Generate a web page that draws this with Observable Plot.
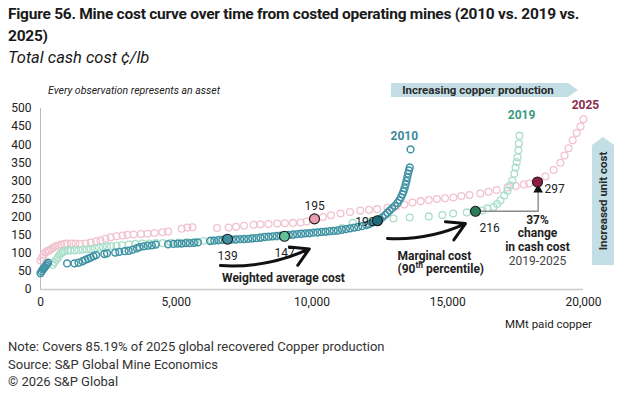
<!DOCTYPE html>
<html><head><meta charset="utf-8">
<script src="https://cdn.jsdelivr.net/npm/d3@7"></script>
<script src="https://cdn.jsdelivr.net/npm/@observablehq/plot@0.6"></script>
<style>
body{margin:0;background:#fff;width:639px;height:394px;overflow:hidden;position:relative;font-family:Roboto,"Noto Sans",sans-serif;color:#1a1a1a}
#t1{position:absolute;left:8px;top:3px;font-weight:700;font-size:15.5px;line-height:22px;white-space:nowrap;letter-spacing:-0.25px}
#sub{position:absolute;left:8px;top:48px;font-style:italic;font-size:16.5px;line-height:20px}
#chart{position:absolute;left:0;top:70px}
#foot{position:absolute;left:8px;top:338px;font-size:13px;line-height:17.5px;color:#333;white-space:nowrap}
</style></head><body>
<div id="t1">Figure 56. Mine cost curve over time from costed operating mines (2010 vs. 2019 vs.<br>2025)</div>
<div id="sub">Total cash cost ¢/lb</div>
<div id="chart"></div>
<div id="foot">Note: Covers 85.19% of 2025 global recovered Copper production<br>Source: S&amp;P Global Mine Economics<br>© 2026 S&amp;P Global</div>
<script>
// cumulative paid copper (x) and total cash cost (y), per asset
const mines2010 = [[0,45],[40,50],[80,55],[120,58],[160,62],[200,66],[240,70],[280,74],
[980,72],[1250,72],[1400,74],[1550,78],[1650,82],[1750,85],[1850,88],[1950,92],[2050,95],[2350,98],[2450,100],[2750,102],[2900,104],[3100,106],[3250,107],[3400,110],[3550,114],[3650,117],[3800,119],[3950,121],[4100,122],[4250,124],[4700,125],[4900,126],[5050,127],[5200,127],[5350,128],[5500,128],[5650,129],[5800,130],[6250,134],[6400,135],[6550,136],[6700,137],[7050,138],[7200,138],[7350,139],[7500,139],[7650,140],[7800,141],[7950,142],[8100,143],[8250,145],[8400,146],[8550,147],[8700,148],[8850,149],[9000,150],[9150,151],[9300,152],[9450,153],[9600,154],[9750,155],[9900,156],[10050,157],[10200,158],[10350,159],[10500,160],[10650,161],[10800,162],[10950,163],[11100,165],[11250,167],[11400,169],[11550,171],[11700,173],[11850,175],[12000,178],[12100,181],[12200,184],[12300,187],[12500,194],[12600,200],[12700,206],[12780,212],[12860,218],[12950,224],[13050,231],[13150,239],[13220,247],[13280,255],[13330,263],[13370,271],[13410,280],[13450,290],[13480,300],[13510,310],[13540,320],[13570,329],[13600,337],[13630,387]];
const mines2019 = [[450,68],[520,75],[580,82],[640,88],[700,95],[760,100],[820,104],[900,106],[1000,108],[1100,108],[1250,108],[1400,109],[1550,110],[1700,111],[1850,112],[2000,114],[2150,116],[2300,118],[2450,119],[2600,120],[2800,121],[3000,122],[3250,124],[3500,126],[3750,127],[4000,127],[4250,128],[4500,128],[4800,129],[5100,130],[5400,131],[5700,132],[6000,134],[6300,136],[6600,138],[6900,139],[7200,140],[7500,141],[7800,143],[8100,144],[8400,145],[8700,146],[9300,150],[9600,153],[9900,155],[10200,157],[10500,158],[10800,162],[11100,170],[11500,184],[12000,189],[12500,193],[13000,196],[13600,199],[14300,202],[14800,206],[15200,210],[15700,213],[16280,218],[16460,224],[16690,228],[16820,236],[16940,246],[17080,260],[17200,273],[17300,287],[17380,301],[17450,320],[17500,337],[17540,352],[17570,365],[17600,385],[17620,403],[17640,425]];
const mines2025 = [[0,80],[60,88],[120,96],[180,102],[250,106],[320,108],[400,112],[480,116],[560,120],[660,121],[760,124],[880,126],[980,127],[1150,127],[1290,127],[1450,126],[1660,127],[1850,130],[2050,133],[2210,135],[2400,140],[2580,144],[2800,147],[3020,149],[3200,151],[3430,152],[3700,153],[3940,154],[4200,156],[4490,158],[4700,160],[5200,168],[5410,171],[5600,172],[6500,170],[6930,171],[7200,173],[7500,176],[7850,179],[8100,180],[8400,181],[8720,182],[9000,183],[9300,184],[9580,185],[9800,188],[10400,200],[10700,205],[11050,210],[11400,214],[11780,218],[12100,220],[12400,222],[12780,226],[13100,230],[13400,235],[13700,240],[14000,244],[14300,247],[14600,250],[14900,252],[15210,254],[15500,258],[15800,261],[16200,265],[16500,270],[16800,275],[17200,282],[17500,286],[17800,290],[18000,293],[18600,312],[18900,330],[19150,350],[19300,370],[19450,390],[19600,412],[19750,432],[19890,450],[20000,470]];

// highlighted assets: weighted average and 90th percentile
const highlights = [
  {year:"2010", kind:"avg", x:6888, y:139, label:"139"},
  {year:"2019", kind:"avg", x:8987, y:147, label:"147"},
  {year:"2025", kind:"avg", x:10092, y:195, label:"195"},
  {year:"2010", kind:"p90", x:12410, y:190, label:"190"},
  {year:"2019", kind:"p90", x:16022, y:216, label:"216"},
  {year:"2025", kind:"p90", x:18306, y:297, label:"297"}
];
const yearLabels = [{year:"2010", x:13400, y:423},{year:"2019", x:17720, y:481},{year:"2025", x:20070, y:508}];
const xTicks = [0,5000,10000,15000,20000];
const yTicks = [0,50,100,150,200,250,300,350,400,450,500];

const ringColor = {"2010":"#3f92a4","2019":"#aadfcb","2025":"#f2c2cf"};
const hlFill = {"2010-avg":"#3f8fa0","2019-avg":"#62c29c","2025-avg":"#eb9ab2","2010-p90":"#1f6b7d","2019-p90":"#2a7d5a","2025-p90":"#8c1d40"};
const labelColor = {"2010":"#3a8a9c","2019":"#3b9a80","2025":"#8c2b4b"};

const toObj = (arr, year) => arr.map(([x,y]) => ({x, y, year}));
const H = (k) => highlights.find(d => d.label === k);

const plot = Plot.plot({
  width: 639, height: 268,
  marginTop: 38, marginBottom: 49, marginLeft: 40, marginRight: 56,
  style: {fontFamily: "Roboto, sans-serif", fontSize: "12px", color: "#222", background: "transparent", overflow: "visible"},
  x: {domain: [0, 20000]},
  y: {domain: [0, 500]},
  marks: [
    Plot.axisY({ticks: yTicks, tickSize: 0, tickPadding: 9, fontSize: 12, label: null}),
    Plot.axisX({ticks: xTicks, tickSize: 0, tickPadding: 8, fontSize: 12, tickFormat: d3.format(","), label: null}),
    Plot.ruleX([0], {y1: 0, y2: 500, stroke: "#bbb"}),
    Plot.ruleY([0], {x1: 0, x2: 20000, stroke: "#ccc", strokeWidth: 1.5}),
    Plot.dot(toObj(mines2025, "2025"), {x: "x", y: "y", r: 3.4, stroke: ringColor["2025"], strokeWidth: 1.3, fill: "none"}),
    Plot.dot(toObj(mines2019, "2019"), {x: "x", y: "y", r: 3.4, stroke: ringColor["2019"], strokeWidth: 1.3, fill: "none"}),
    Plot.dot(toObj(mines2010, "2010"), {x: "x", y: "y", r: 3.4, stroke: ringColor["2010"], strokeWidth: 1.5, fill: "none"}),
    // connector 2019 -> 2025 marginal
    Plot.line([[H("216").x, H("216").y],[18330, H("216").y],[18330, 280]], {stroke: "#8a8a8a", strokeWidth: 1.4}),
    Plot.dot([[18330, 276]], {symbol: "triangle", r: 3.6, fill: "#111", stroke: "none"}),
    // value labels
    Plot.text([H("139")], {x: "x", y: "y", text: "label", dy: 17, fontSize: 12, fill: "#222"}),
    Plot.text([H("147")], {x: "x", y: "y", text: "label", dy: 17, fontSize: 12, fill: "#222"}),
    Plot.text([H("195")], {x: "x", y: "y", text: "label", dy: -13, fontSize: 12, fill: "#222"}),
    Plot.text([H("190")], {x: "x", y: "y", text: "label", dx: -12, dy: 1, fontSize: 12, fill: "#222"}),
    Plot.text([H("216")], {x: "x", y: "y", text: "label", dx: 14, dy: 17, fontSize: 12, fill: "#222"}),
    Plot.text([H("297")], {x: "x", y: "y", text: "label", dx: 17, dy: 7, fontSize: 12, fill: "#222"}),
    Plot.dot(highlights, {x: "x", y: "y", r: 5, fill: d => hlFill[d.year + "-" + d.kind], stroke: "#1a1a1a", strokeWidth: 1.1}),
    // year labels
    Plot.text(yearLabels, {x: "x", y: "y", text: "year", fill: d => labelColor[d.year], fontWeight: 700, fontSize: 12}),
    // arrows
    Plot.arrow([{x1: 6630, y1: 66, x2: 9900, y2: 112}], {x1: "x1", y1: "y1", x2: "x2", y2: "y2", bend: -14, stroke: "#111", strokeWidth: 3, headLength: 10}),
    Plot.arrow([{x1: 12780, y1: 141, x2: 15650, y2: 182}], {x1: "x1", y1: "y1", x2: "x2", y2: "y2", bend: -14, stroke: "#111", strokeWidth: 3, headLength: 10}),
    // annotation texts
    Plot.text(["Weighted average cost"], {x: 8950, y: 30, text: d => d, fontWeight: 700, fontSize: 12, fill: "#222"}),
    Plot.text(["Marginal cost\n(90th percentile)"], {x: 13150, y: 76, text: d => d, textAnchor: "start", lineAnchor: "middle", lineHeight: 1.1, fontWeight: 700, fontSize: 12, fill: "#222"}),
    Plot.text(["37%\nchange\nin cash cost"], {x: 18306, y: 216, text: d => d, lineAnchor: "top", dy: 3, lineHeight: 1.12, fontWeight: 700, fontSize: 12, fill: "#222"}),
    Plot.text(["2019-2025"], {x: 18306, y: 216, text: d => d, lineAnchor: "top", dy: 45, fontSize: 12, fill: "#444"})
  ]
});
document.getElementById("chart").appendChild(plot);

// decorations: banners and notes
const svg = d3.select(plot);
const deco = svg.append("g").attr("text-anchor", "start");
deco.append("path").attr("d", "M391,13 L568,13 L578,20 L568,27 L391,27 Z").attr("fill", "#c3dfe5");
deco.append("text").attr("x", 478).attr("y", 20).attr("dy", "0.35em").attr("text-anchor", "middle")
  .attr("font-weight", 700).attr("font-size", 11.5).attr("fill", "#2a2a2a").text("Increasing copper production");
deco.append("path").attr("d", "M592,75 L603,67 L614,75 L614,195 L592,195 Z").attr("fill", "#c3dfe5");
deco.append("text").attr("transform", "translate(603,131) rotate(-90)").attr("dy", "0.35em").attr("text-anchor", "middle")
  .attr("font-weight", 700).attr("font-size", 11.5).attr("fill", "#2a2a2a").text("Increased unit cost");
deco.append("text").attr("x", 48).attr("y", 20).attr("dy", "0.35em").attr("text-anchor", "start").attr("font-style", "italic")
  .attr("font-size", 10.5).attr("fill", "#222").text("Every observation represents an asset");
deco.append("text").attr("x", 592).attr("y", 254).attr("dy", "0.35em").attr("text-anchor", "end")
  .attr("font-size", 11.5).attr("fill", "#222").text("MMt paid copper");

// superscript in "(90th percentile)"
svg.selectAll("tspan").each(function() {
  const t = d3.select(this);
  if (t.text() === "(90th percentile)") {
    t.text("(90");
    t.append("tspan").attr("baseline-shift", "super").attr("font-size", "70%").text("th");
    t.append("tspan").text(" percentile)");
  }
});
</script>
</body></html>
